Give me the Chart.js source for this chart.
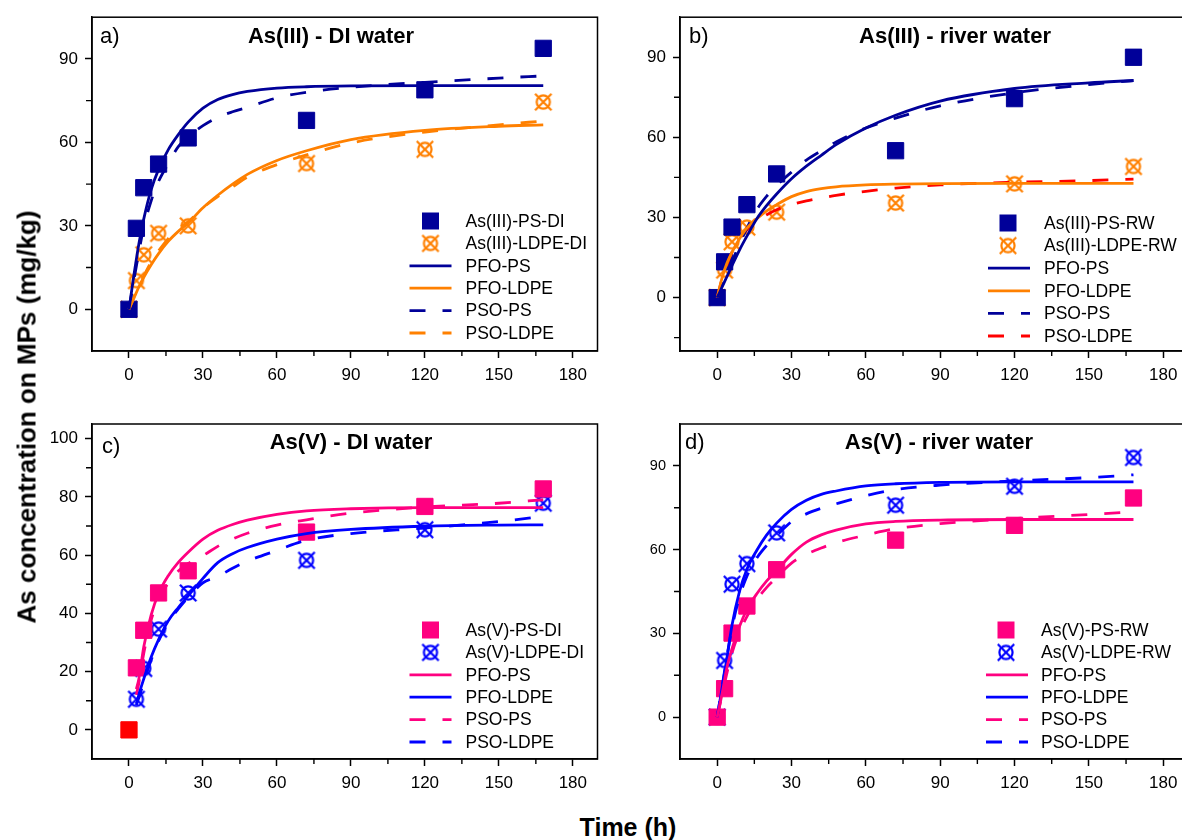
<!DOCTYPE html>
<html><head><meta charset="utf-8">
<script src="https://cdn.jsdelivr.net/npm/chart.js@4.4.0/dist/chart.umd.min.js"></script>
<style>
html,body{margin:0;padding:0;background:#fff;overflow:hidden;width:1182px;height:840px;position:relative;}
canvas{position:absolute;}
.axt{position:absolute;font:bold 25px "Liberation Sans",Arial,sans-serif;color:#000;white-space:nowrap;}
#ytitle{left:27px;top:417px;font-size:26px;transform:translate(-50%,-50%) rotate(-90deg);}
#xtitle{left:628px;top:827px;transform:translate(-50%,-50%);}
</style></head>
<body>
<canvas id="ca" width="610" height="400" style="left:0;top:0;width:610px;height:400px"></canvas>
<canvas id="cb" width="610" height="400" style="left:600px;top:0;width:610px;height:400px"></canvas>
<canvas id="cc" width="610" height="400" style="left:0;top:400px;width:610px;height:400px"></canvas>
<canvas id="cd" width="610" height="400" style="left:600px;top:400px;width:610px;height:400px"></canvas>
<div id="ytitle" class="axt">As concentration on MPs (mg/kg)</div>
<div id="xtitle" class="axt">Time (h)</div>
<script>
// ---------- data ----------
const xTicks = [0, 30, 60, 90, 120, 150, 180];
const xMinor = [15, 45, 75, 105, 135, 165];
const sampleT = [0, 3, 6, 12, 24, 72, 120, 168];
const fitT = [0, 2, 4, 6, 9, 12, 16, 20, 24, 30, 36, 42, 48, 60, 72, 90, 120, 150, 168];
const fitTC = [3, 4, 6, 9, 12, 16, 20, 24, 30, 36, 42, 48, 60, 72, 90, 120, 150, 168];

// a) As(III) - DI water
const aPsDI   = [0, 29.1, 43.7, 52.2, 61.6, 67.9, 78.9, 93.8];
const aLdpeDI = [0, 10.3, 19.6, 27.3, 30.0, 52.4, 57.5, 74.5];
const aPfoPS   = [0, 12.3, 23.5, 32.5, 43, 50.3, 57.5, 62.8, 67.3, 72.3, 75.4, 77.2, 78.3, 79.5, 80, 80.3, 80.4, 80.4, 80.4];
const aPfoLDPE = [0, 4, 8, 11.5, 16, 20, 24.5, 28, 31, 36.5, 41, 45, 48.5, 53.5, 57, 61, 64.3, 65.8, 66.3];
const aPsoPS   = [0, 10.5, 20.5, 29.5, 39, 46, 52.5, 58.5, 62, 66, 69, 71, 72.6, 76, 78, 79.8, 81.6, 83.1, 83.9];
const aPsoLDPE = [0, 4.5, 8.5, 12, 17, 21, 25.5, 29, 31.5, 36.5, 40.5, 44, 47.5, 52, 55.5, 59.8, 63.7, 66.3, 67.7];
const aYTicks = [0, 30, 60, 90];
const aYMinor = [15, 45, 75];

// b) As(III) - river water
const bPsRW   = [0, 13.4, 26.4, 34.8, 46.3, 55.0, 74.5, 90.0];
const bLdpeRW = [0, 10.3, 20.9, 26.4, 32.0, 35.4, 42.6, 49.1];
const bPfoPS   = [0, 4, 8, 12, 17.8, 23, 29.5, 34.5, 38.8, 44.5, 49.2, 53.3, 57.3, 63.5, 68.3, 73.6, 78.3, 80.4, 81.3];
const bPfoLDPE = [0, 7.5, 13, 17, 22, 26, 29.5, 32.5, 34.8, 37.8, 39.7, 40.8, 41.5, 42.2, 42.5, 42.7, 42.8, 42.8, 42.8];
const bPsoPS   = [0, 4.5, 9, 13.5, 20, 26, 33, 38, 42, 47, 51.5, 55, 58.3, 63.5, 67.2, 71.8, 76.7, 79.8, 81.3];
const bPsoLDPE = [0, 7, 12.5, 17, 21.8, 25.3, 28.5, 31, 32.9, 34.8, 36.2, 37.3, 38.3, 39.8, 41, 42.2, 43.2, 43.8, 44.4];
const bYTicks = [0, 30, 60, 90];
const bYMinor = [-15, 15, 45, 75];

// c) As(V) - DI water
const cPsDI   = [0, 21.3, 34.2, 47.0, 54.6, 67.9, 76.7, 82.7];
const cLdpeDI = [null, 10.5, 21.1, 34.6, 47.0, 58.2, 68.7, 77.8];
const cPfoPS   = [14, 17.5, 28.5, 39.5, 46.8, 53, 57.5, 61, 65.5, 68.5, 70.5, 72, 74, 75.2, 75.9, 76.3, 76.3, 76.3];
const cPfoLDPE = [8.5, 12, 17.5, 25, 31, 37.5, 42, 46, 52, 57.4, 60.5, 62.6, 65.5, 67.4, 68.8, 69.9, 70.3, 70.4];
const cPsoPS   = [12, 16, 26.3, 37.7, 44.5, 50.5, 54.5, 57.1, 59.8, 63, 65.5, 67.5, 70.3, 72.1, 74.4, 76.5, 77.8, 79.0];
const cPsoLDPE = [9, 11, 16.5, 24, 30.5, 37, 41.5, 45.5, 50.5, 52.6, 55.5, 57.9, 61.6, 65.1, 67.4, 69.3, 71.5, 73.3];
const cYTicks = [0, 20, 40, 60, 80, 100];
const cYMinor = [10, 30, 50, 70, 90];

// d) As(V) - river water
const dPsRW   = [0, 10.2, 30.1, 39.8, 52.8, 63.4, 68.7, 78.5];
const dLdpeRW = [0, 20.3, 47.6, 55.0, 66.0, 75.9, 82.7, 93.0];
const dPfoPS   = [0, 8.5, 18, 24.5, 32.5, 38.5, 44.2, 48.8, 52.5, 58.3, 62.7, 65.3, 67, 69.2, 70.1, 70.6, 70.8, 70.8, 70.8];
const dPfoLDPE = [0, 10.5, 21.5, 33, 45, 53, 59.8, 65.3, 69.5, 74.4, 77.7, 79.8, 81, 82.8, 83.6, 84.1, 84.3, 84.3, 84.3];
const dPsoPS   = [0, 8, 16, 23, 30.5, 36, 42, 46.5, 50, 55.2, 58.3, 60.6, 62.5, 65.2, 67.5, 69.3, 71.1, 72.6, 73.5];
const dPsoLDPE = [0, 11, 22, 32, 43, 50.5, 57, 61.5, 65, 70, 72.8, 74.8, 76.4, 79.3, 81.5, 83.1, 84.6, 85.8, 86.8];
const dYTicks = [0, 30, 60, 90];
const dYMinor = [15, 45, 75];

// ---------- styling ----------
const FONT = '"Liberation Sans", Arial, sans-serif';
Chart.defaults.font.family = FONT;
Chart.defaults.color = '#000';
const NAVY = '#000099', ORANGE = '#FF8000', RED = '#FF0000', PINK = '#FF0080', BLUE = '#0000FF';
const DASH = [16, 17];

function circleX(color) {
  const c = document.createElement('canvas');
  c.width = 22; c.height = 22;
  const g = c.getContext('2d');
  g.strokeStyle = color; g.lineWidth = 2.2;
  g.beginPath(); g.arc(11, 11, 6.6, 0, Math.PI * 2); g.stroke();
  g.beginPath(); g.moveTo(2.8, 2.8); g.lineTo(19.2, 19.2); g.moveTo(19.2, 2.8); g.lineTo(2.8, 19.2); g.stroke();
  return c;
}

function pts(label, tArr, vArr, color, kind, extra) {
  const img = kind === 'circlex' ? circleX(color) : null;
  return Object.assign({
    label, legendKind: kind, legendColor: color, legendImg: img,
    data: tArr.map((t, i) => ({ x: t, y: vArr[i] })).filter(p => p.y !== null),
    showLine: false, order: 1,
    pointStyle: kind === 'square' ? 'rect' : img,
    pointRadius: kind === 'square' ? 11.5 : 11,
    pointHoverRadius: kind === 'square' ? 11.5 : 11,
    pointBackgroundColor: color, pointBorderColor: color, pointBorderWidth: 1
  }, extra || {});
}
function fit(label, tArr, vArr, color, dashed) {
  return {
    label, legendKind: dashed ? 'dash' : 'solid', legendColor: color,
    data: tArr.map((t, i) => ({ x: t, y: vArr[i] })),
    showLine: true, order: 0, pointRadius: 0, pointHoverRadius: 0,
    borderColor: color, borderWidth: 2.8, borderDash: dashed ? DASH : [],
    cubicInterpolationMode: 'monotone', fill: false
  };
}

const decor = {
  id: 'decor',
  afterDraw(chart, args, o) {
    const ctx = chart.ctx, a = chart.chartArea;
    const xs = chart.scales.x, ys = chart.scales.y;
    ctx.save();
    ctx.setLineDash([]);
    ctx.strokeStyle = '#000'; ctx.lineWidth = 1.5;
    ctx.strokeRect(a.left, a.top, a.right - a.left, a.bottom - a.top);
    ctx.lineWidth = 1.4;
    ctx.beginPath();
    o.xMinor.forEach(v => { const p = xs.getPixelForValue(v); ctx.moveTo(p, a.bottom); ctx.lineTo(p, a.bottom + 5); });
    o.yMinor.forEach(v => { const p = ys.getPixelForValue(v); ctx.moveTo(a.left, p); ctx.lineTo(a.left - 6, p); });
    ctx.stroke();
    ctx.fillStyle = '#000'; ctx.textBaseline = 'middle';
    ctx.font = '22px ' + FONT; ctx.textAlign = 'left';
    ctx.fillText(o.tag, a.left + o.tagDx, a.top + o.tagDy);
    ctx.font = 'bold 22px ' + FONT; ctx.textAlign = 'center';
    ctx.fillText(o.title, o.titleX, a.top + o.titleDy);
    // legend
    const ds = chart.data.datasets, n = ds.length;
    ctx.font = '17.5px ' + FONT; ctx.textAlign = 'left';
    ds.forEach((d, i) => {
      const y = a.bottom - o.legBottom - (n - 1 - i) * o.legStep;
      ctx.fillStyle = d.legendColor; ctx.strokeStyle = d.legendColor;
      if (d.legendKind === 'square') {
        ctx.fillRect(a.right + o.legMarkX - 8.5, y - 8.5, 17, 17);
      } else if (d.legendKind === 'circlex') {
        ctx.drawImage(d.legendImg, a.right + o.legMarkX - 11, y - 11);
      } else {
        ctx.lineWidth = 2.8; ctx.lineCap = 'butt';
        ctx.setLineDash(d.legendKind === 'dash' ? DASH : []);
        ctx.beginPath(); ctx.moveTo(a.right + o.legL1, y); ctx.lineTo(a.right + o.legL2, y); ctx.stroke();
        ctx.setLineDash([]);
      }
      ctx.fillStyle = '#000';
      ctx.fillText(d.label, a.right + o.legText, y + 1);
    });
    ctx.restore();
  }
};

function scales(yMin, yMax, yTicks, yWidth, xHeight, yFontSize) {
  return {
    x: {
      type: 'linear', min: -15, max: 190,
      afterBuildTicks: s => { s.ticks = xTicks.map(v => ({ value: v })); },
      afterFit: s => { s.height = xHeight; },
      grid: { drawOnChartArea: false, drawTicks: true, tickLength: 7, tickColor: '#000', tickWidth: 1.5 },
      border: { display: true, color: '#000', width: 1.5 },
      ticks: { color: '#000', font: { size: 17 }, padding: 7, maxRotation: 0, autoSkip: false }
    },
    y: {
      type: 'linear', min: yMin, max: yMax,
      afterBuildTicks: s => { s.ticks = yTicks.map(v => ({ value: v })); },
      afterFit: s => { s.width = yWidth; },
      grid: { drawOnChartArea: false, drawTicks: true, tickLength: 7, tickColor: '#000', tickWidth: 1.5 },
      border: { display: true, color: '#000', width: 1.5 },
      ticks: { color: '#000', font: { size: yFontSize }, padding: 7, autoSkip: false }
    }
  };
}

function panel(id, datasets, sc, pad, deco) {
  return new Chart(document.getElementById(id), {
    type: 'scatter',
    data: { datasets },
    options: {
      responsive: false, animation: false, devicePixelRatio: 1,
      layout: { padding: pad },
      plugins: { legend: { display: false }, tooltip: { enabled: false }, decor: deco },
      scales: sc
    },
    plugins: [decor]
  });
}

panel('ca', [
  pts('As(III)-PS-DI', sampleT, aPsDI, NAVY, 'square'),
  pts('As(III)-LDPE-DI', sampleT, aLdpeDI, ORANGE, 'circlex'),
  fit('PFO-PS', fitT, aPfoPS, NAVY, false),
  fit('PFO-LDPE', fitT, aPfoLDPE, ORANGE, false),
  fit('PSO-PS', fitT, aPsoPS, NAVY, true),
  fit('PSO-LDPE', fitT, aPsoLDPE, ORANGE, true)
], scales(-15, 105, aYTicks, 92, 49, 17), { top: 16, right: 8, left: 0, bottom: 0 }, {
  xMinor, yMinor: aYMinor, tag: 'a)', tagDx: 8, tagDy: 20, title: 'As(III) - DI water', titleX: 331, titleDy: 20,
  legMarkX: -167, legL1: -188, legL2: -146, legText: -132, legBottom: 18, legStep: 22.4
});

panel('cb', [
  pts('As(III)-PS-RW', sampleT, bPsRW, NAVY, 'square'),
  pts('As(III)-LDPE-RW', sampleT, bLdpeRW, ORANGE, 'circlex'),
  fit('PFO-PS', fitT, bPfoPS, NAVY, false),
  fit('PFO-LDPE', fitT, bPfoLDPE, ORANGE, false),
  fit('PSO-PS', fitT, bPsoPS, NAVY, true),
  fit('PSO-LDPE', fitT, bPsoLDPE, RED, true)
], scales(-20, 105, bYTicks, 80, 49, 17), { top: 16, right: 22, left: 0, bottom: 0 }, {
  xMinor, yMinor: bYMinor, tag: 'b)', tagDx: 9, tagDy: 20, title: 'As(III) - river water', titleX: 355, titleDy: 20,
  legMarkX: -180, legL1: -200, legL2: -158, legText: -144, legBottom: 15, legStep: 22.6
});

panel('cc', [
  pts('As(V)-PS-DI', sampleT, cPsDI, PINK, 'square', {
    pointBackgroundColor: c => c.dataIndex === 0 ? RED : PINK,
    pointBorderColor: c => c.dataIndex === 0 ? RED : PINK
  }),
  pts('As(V)-LDPE-DI', sampleT, cLdpeDI, BLUE, 'circlex'),
  fit('PFO-PS', fitTC, cPfoPS, PINK, false),
  fit('PFO-LDPE', fitTC, cPfoLDPE, BLUE, false),
  fit('PSO-PS', fitTC, cPsoPS, PINK, true),
  fit('PSO-LDPE', fitTC, cPsoLDPE, BLUE, true)
], scales(-10, 105, cYTicks, 92, 41, 17), { top: 24, right: 8, left: 0, bottom: 0 }, {
  xMinor, yMinor: cYMinor, tag: 'c)', tagDx: 10, tagDy: 23, title: 'As(V) - DI water', titleX: 351, titleDy: 19,
  legMarkX: -167, legL1: -188, legL2: -146, legText: -132, legBottom: 17, legStep: 22.4
});

panel('cd', [
  pts('As(V)-PS-RW', sampleT, dPsRW, PINK, 'square'),
  pts('As(V)-LDPE-RW', sampleT, dLdpeRW, BLUE, 'circlex'),
  fit('PFO-PS', fitT, dPfoPS, PINK, false),
  fit('PFO-LDPE', fitT, dPfoLDPE, BLUE, false),
  fit('PSO-PS', fitT, dPsoPS, PINK, true),
  fit('PSO-LDPE', fitT, dPsoLDPE, BLUE, true)
], scales(-15, 105, dYTicks, 80, 41, 14.5), { top: 24, right: 22, left: 0, bottom: 0 }, {
  xMinor, yMinor: dYMinor, tag: 'd)', tagDx: 5, tagDy: 19, title: 'As(V) - river water', titleX: 339, titleDy: 19,
  legMarkX: -182, legL1: -202, legL2: -160, legText: -147, legBottom: 17, legStep: 22.4
});
</script>
</body></html>
